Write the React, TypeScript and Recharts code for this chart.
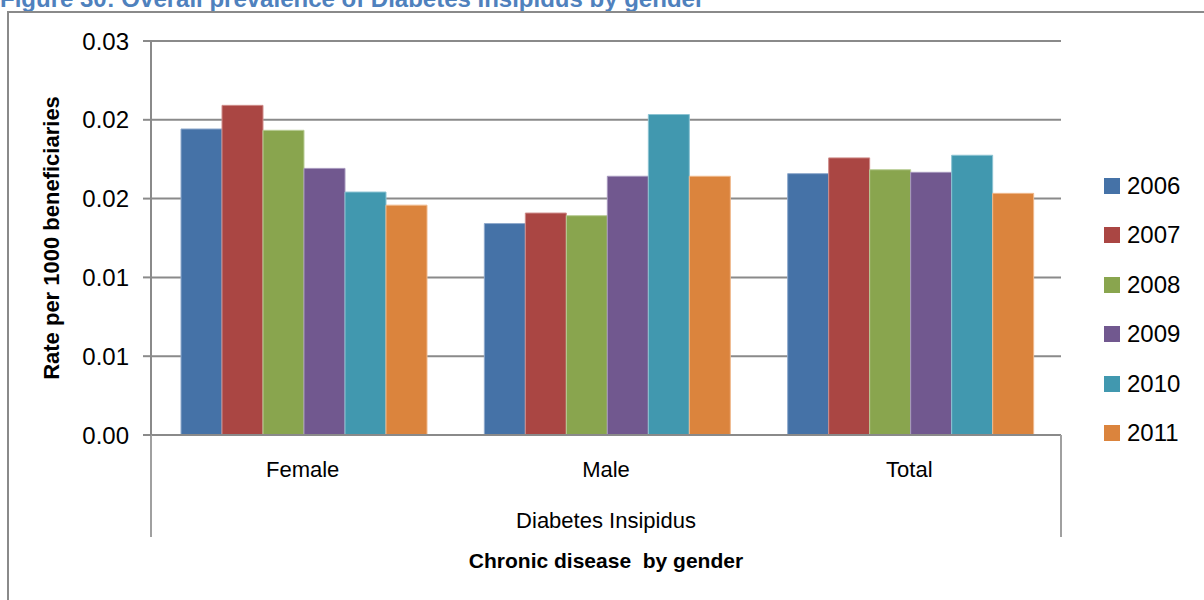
import React from 'react';
import { BarChart, Bar, XAxis, YAxis, CartesianGrid, Legend } from 'recharts';

const categories = ['Female', 'Male', 'Total'];
const years = ['2006', '2007', '2008', '2009', '2010', '2011'];
const v2006 = [0.0233, 0.0161, 0.0199];
const v2007 = [0.0251, 0.0169, 0.0211];
const v2008 = [0.0232, 0.0167, 0.0202];
const v2009 = [0.0203, 0.0197, 0.02];
const v2010 = [0.0185, 0.0244, 0.0213];
const v2011 = [0.0175, 0.0197, 0.0184];
const seriesValues = [v2006, v2007, v2008, v2009, v2010, v2011];
const colors = ['#4572A7', '#AA4643', '#89A54E', '#71588F', '#4198AF', '#DB843D'];
const strokes = ['#8fa9cc', '#cf8d8b', '#b9cd96', '#a697bd', '#8cc3d2', '#f0b98c'];
const yTicks = [0, 0.006, 0.012, 0.018, 0.024, 0.03];
const titleText = 'Figure 30: Overall prevalence of Diabetes Insipidus by gender';
const yLabelText = 'Rate per 1000 beneficiaries';
const xGroupText = 'Diabetes Insipidus';
const xTitleText = 'Chronic disease  by gender';

const data = categories.map((c, i) => {
  const row: Record<string, string | number> = { category: c };
  years.forEach((y, j) => {
    row[y] = seriesValues[j][i];
  });
  return row;
});

const GRID = '#8a8a8a';
const FONT = '"Liberation Sans", Arial, sans-serif';

const XTick = (props: any) => {
  const { x, y, payload } = props;
  return (
    <text x={x} y={y + 34} textAnchor="middle" fontFamily={FONT} fontSize={22} fill="#000">
      {payload.value}
    </text>
  );
};

const XDecor = (props: any) => {
  const vb = props.viewBox || {};
  const x0 = vb.x;
  const x1 = vb.x + vb.width;
  const y0 = vb.y;
  const cx = x0 + vb.width / 2;
  return (
    <g>
      <line x1={x0} y1={y0} x2={x0} y2={y0 + 102} stroke="#a0a0a0" strokeWidth={2} />
      <line x1={x1} y1={y0} x2={x1} y2={y0 + 102} stroke="#a0a0a0" strokeWidth={2} />
      <text x={cx} y={y0 + 93} textAnchor="middle" fontFamily={FONT} fontSize={22} fill="#000">
        {xGroupText}
      </text>
      <text
        x={cx}
        y={y0 + 133}
        textAnchor="middle"
        fontFamily={FONT}
        fontWeight="bold"
        fontSize={21}
        fill="#000"
        style={{ whiteSpace: 'pre' }}
      >
        {xTitleText}
      </text>
    </g>
  );
};

const YDecor = (props: any) => {
  const vb = props.viewBox || {};
  const cx = vb.x + 59;
  const cy = vb.y + vb.height / 2;
  return (
    <text
      x={cx}
      y={cy}
      transform={`rotate(-90 ${cx} ${cy})`}
      textAnchor="middle"
      fontFamily={FONT}
      fontWeight="bold"
      fontSize={22}
      fill="#000"
    >
      {yLabelText}
    </text>
  );
};

const LegendContent = (props: any) => {
  const payload = props.payload || [];
  return (
    <div style={{ fontFamily: FONT, fontSize: 24, color: '#000' }}>
      {payload.map((p: any) => (
        <div key={p.value} style={{ height: 49.5, display: 'flex', alignItems: 'center' }}>
          <span style={{ width: 16, height: 16, background: p.color, display: 'inline-block', marginRight: 7 }} />
          <span>{p.value}</span>
        </div>
      ))}
    </div>
  );
};

export default function App() {
  return (
    <div style={{ position: 'absolute', left: 0, top: 0, width: 1204, height: 600, overflow: 'hidden', background: '#fff' }}>
      <div
        style={{
          position: 'absolute',
          left: 0,
          top: -15,
          fontFamily: FONT,
          fontWeight: 'bold',
          fontSize: 24,
          color: '#4F81BD',
          whiteSpace: 'nowrap',
          lineHeight: 'normal',
        }}
      >
        {titleText}
      </div>
      <div
        style={{
          position: 'absolute',
          left: 7,
          top: 11,
          width: 1400,
          height: 800,
          borderLeft: '2px solid #8a8a8a',
          borderTop: '2px solid #8a8a8a',
        }}
      />
      <div style={{ position: 'absolute', left: 0, top: 0 }}>
        <BarChart
          width={1204}
          height={600}
          data={data}
          margin={{ top: 41, right: 143, bottom: 0, left: 0 }}
          barCategoryGap={30}
          barGap={0}
        >
          <CartesianGrid vertical={false} stroke={GRID} strokeWidth={2} />
          <XAxis
            dataKey="category"
            height={165}
            axisLine={{ stroke: GRID, strokeWidth: 2 }}
            tickLine={false}
            tick={<XTick />}
            interval={0}
            label={(p: any) => <XDecor {...p} />}
          />
          <YAxis
            width={151}
            domain={[0, 0.03]}
            ticks={yTicks}
            allowDataOverflow
            tickFormatter={(v: number) => v.toFixed(2)}
            tick={{ fontFamily: FONT, fontSize: 24, fill: '#000' }}
            tickSize={8}
            tickMargin={14}
            tickLine={{ stroke: GRID, strokeWidth: 2 }}
            axisLine={{ stroke: GRID, strokeWidth: 2 }}
            label={(p: any) => <YDecor {...p} />}
          />
          <Legend
            layout="vertical"
            align="center"
            verticalAlign="middle"
            wrapperStyle={{ left: 1104, top: 161, width: 100 }}
            content={<LegendContent />}
          />
          {years.map((y, i) => (
            <Bar
              key={y}
              dataKey={y}
              name={y}
              fill={colors[i]}
              stroke={strokes[i]}
              strokeWidth={1}
              isAnimationActive={false}
            />
          ))}
        </BarChart>
      </div>
    </div>
  );
}
